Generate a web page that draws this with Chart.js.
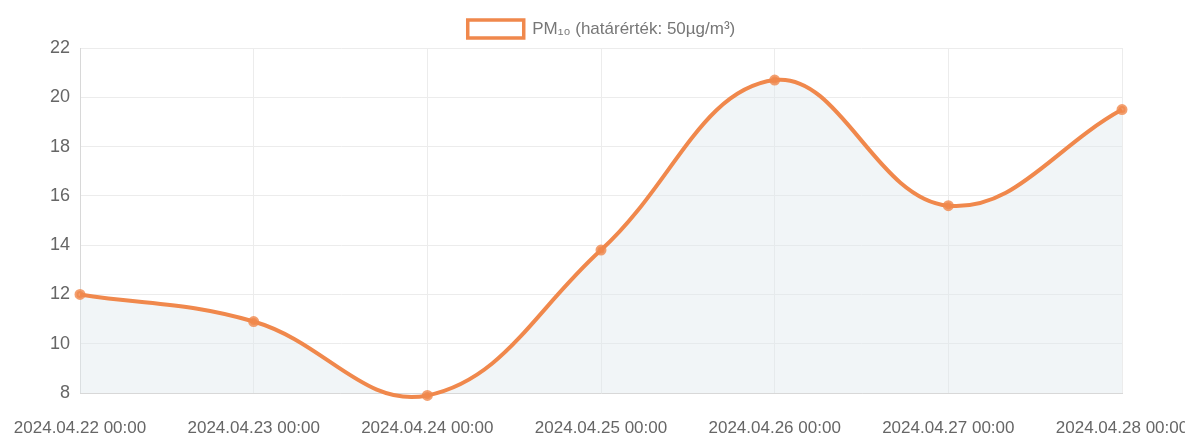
<!DOCTYPE html>
<html>
<head>
<meta charset="utf-8">
<style>
  html, body { margin: 0; padding: 0; background: #fff; }
  #wrap { width: 1185px; height: 439px; }
</style>
<script src="https://cdn.jsdelivr.net/npm/chart.js@4/dist/chart.umd.min.js"></script>
</head>
<body>
<div id="wrap"><canvas id="pm10-chart"></canvas></div>
<script>
// PM10 daily values
const labels = [
  '2024.04.22 00:00',
  '2024.04.23 00:00',
  '2024.04.24 00:00',
  '2024.04.25 00:00',
  '2024.04.26 00:00',
  '2024.04.27 00:00',
  '2024.04.28 00:00',
];
const pm10Values = [12.0, 10.9, 7.9, 13.8, 20.7, 15.6, 19.5];
const yTicks = [8, 10, 12, 14, 16, 18, 20, 22];

const lineColor = 'rgb(240, 136, 76)';

Chart.defaults.font.family = '"Liberation Sans", Arial, sans-serif';
Chart.defaults.color = '#666';

const ctx = document.getElementById('pm10-chart').getContext('2d');
new Chart(ctx, {
  type: 'line',
  data: {
    labels: labels,
    datasets: [
      {
        label: 'PM₁₀ (határérték: 50µg/m³)',
        data: pm10Values,
        borderColor: lineColor,
        backgroundColor: 'rgba(225, 232, 238, 0.45)',
        pointBackgroundColor: 'rgba(240, 136, 76, 0.8)',
        pointBorderColor: 'rgba(240, 136, 76, 0.8)',
        pointRadius: 3.5,
        borderWidth: 4,
        tension: 0.4,
        fill: true,
        clip: false,
      },
    ],
  },
  options: {
    responsive: true,
    maintainAspectRatio: false,
    animation: false,
    layout: { padding: { left: 18, right: 0, top: 10, bottom: 0 } },
    plugins: {
      legend: {
        position: 'top',
        labels: {
          boxWidth: 56,
          boxHeight: 18,
          font: { size: 17 },
          color: '#777',
          padding: 10,
          generateLabels: (chart) => [{
            text: chart.data.datasets[0].label,
            fillStyle: '#fff',
            strokeStyle: lineColor,
            fontColor: '#777',
            lineWidth: 3.5,
            datasetIndex: 0,
          }],
        },
      },
      tooltip: { enabled: false },
    },
    scales: {
      x: {
        afterFit: (axis) => {
          axis.height = 46;
          axis.paddingLeft = 0;
          axis.paddingRight = 63;
        },
        grid: { color: '#ececec', drawTicks: false },
        border: { color: '#d8d8d8' },
        ticks: { font: { size: 17 }, color: '#666', maxRotation: 0, padding: 25 },
      },
      y: {
        min: 8,
        max: 22,
        afterBuildTicks: (axis) => { axis.ticks = yTicks.map((v) => ({ value: v })); },
        afterFit: (axis) => { axis.width = 62; },
        grid: { color: '#ececec', drawTicks: false },
        border: { color: '#d8d8d8' },
        ticks: { font: { size: 18 }, color: '#666', padding: 10 },
      },
    },
  },
});
</script>
</body>
</html>
